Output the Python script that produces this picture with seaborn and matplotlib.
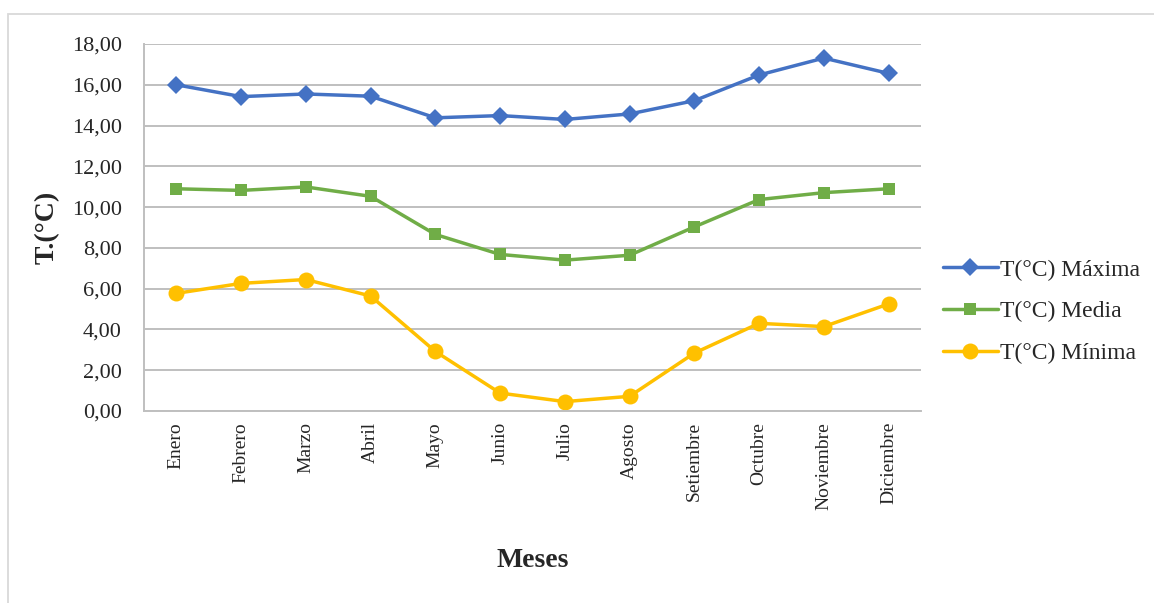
import pandas as pd
import matplotlib.pyplot as plt
import seaborn as sns
from matplotlib.ticker import FuncFormatter, MultipleLocator
from matplotlib.patches import Rectangle

# ---------- Data ----------
meses = ["Enero", "Febrero", "Marzo", "Abril", "Mayo", "Junio",
         "Julio", "Agosto", "Setiembre", "Octubre", "Noviembre", "Diciembre"]
t_maxima = [16.00, 15.42, 15.55, 15.44, 14.38, 14.49, 14.30, 14.57, 15.22, 16.48, 17.31, 16.56]
t_media = [10.90, 10.82, 10.99, 10.53, 8.66, 7.68, 7.40, 7.64, 9.03, 10.37, 10.71, 10.90]
t_minima = [5.77, 6.26, 6.45, 5.64, 2.92, 0.88, 0.46, 0.72, 2.84, 4.30, 4.14, 5.25]
series_names = ["T(°C) Máxima", "T(°C) Media", "T(°C) Mínima"]

# ---------- Long-form table ----------
df = pd.concat([
    pd.DataFrame({"Mes": meses, "T": vals, "Serie": name})
    for name, vals in zip(series_names, [t_maxima, t_media, t_minima])
], ignore_index=True)
df["pos"] = df["Mes"].map({m: i for i, m in enumerate(meses)})

sns.set_theme(style="white")
plt.rcParams['font.family'] = ['Liberation Serif', 'DejaVu Serif']

palette = dict(zip(series_names, ["#4472C4", "#70AD47", "#FFC000"]))
markers = dict(zip(series_names, ["D", "s", "o"]))
msizes = {"T(°C) Máxima": 9.5, "T(°C) Media": 9, "T(°C) Mínima": 11.5}

fig = plt.figure(figsize=(11.54, 6.03), dpi=100)
ax = fig.add_axes([0.1248, 0.3184, 0.798 - 0.1248, 0.927 - 0.3184])

for name in series_names:
    sub = df[df["Serie"] == name]
    sns.lineplot(data=sub, x="pos", y="T", ax=ax, color=palette[name],
                 marker=markers[name], markersize=msizes[name],
                 markeredgewidth=0, linewidth=2.5, label=name)

# ---------- Axes styling ----------
ax.set_xlim(-0.5, len(meses) - 0.5)
ax.set_ylim(0, 18)
ax.yaxis.set_major_locator(MultipleLocator(2))
ax.yaxis.set_major_formatter(FuncFormatter(lambda v, p: f"{v:.2f}".replace(".", ",")))
ax.set_xticks(range(len(meses)))
ax.set_xticklabels(meses, rotation=90, fontsize=14)
ax.tick_params(axis="y", labelsize=16, length=0, pad=16)
ax.tick_params(axis="x", length=0, pad=8)
ax.grid(axis="y", color="#BFBFBF", linewidth=1.4)
ax.set_axisbelow(True)
for side in ["top", "right"]:
    ax.spines[side].set_visible(False)
for side in ["left", "bottom"]:
    ax.spines[side].set_color("#BFBFBF")
    ax.spines[side].set_linewidth(1.4)

ax.set_xlabel("")
ax.set_ylabel("T.(°C)", fontsize=20, fontweight="bold")
ax.yaxis.set_label_coords(-0.108, 0.5)
fig.text(0.462, 0.07, "Meses", fontsize=20, fontweight="bold", ha="center", va="center")

ax.get_legend().remove()
handles, labels = ax.get_legend_handles_labels()
fig.legend(handles, labels, loc="center left", bbox_to_anchor=(0.799, 0.483),
           frameon=False, fontsize=17, handlelength=2.3, handletextpad=0.12,
           labelspacing=0.86)

# chart border
fig.patches.append(Rectangle((8 / 1154, -0.05), 1.2, 1 - 14 / 603 + 0.05,
                             transform=fig.transFigure, fill=False,
                             edgecolor="#D9D9D9", linewidth=1.3))

fig.savefig("out.png", dpi=100)
